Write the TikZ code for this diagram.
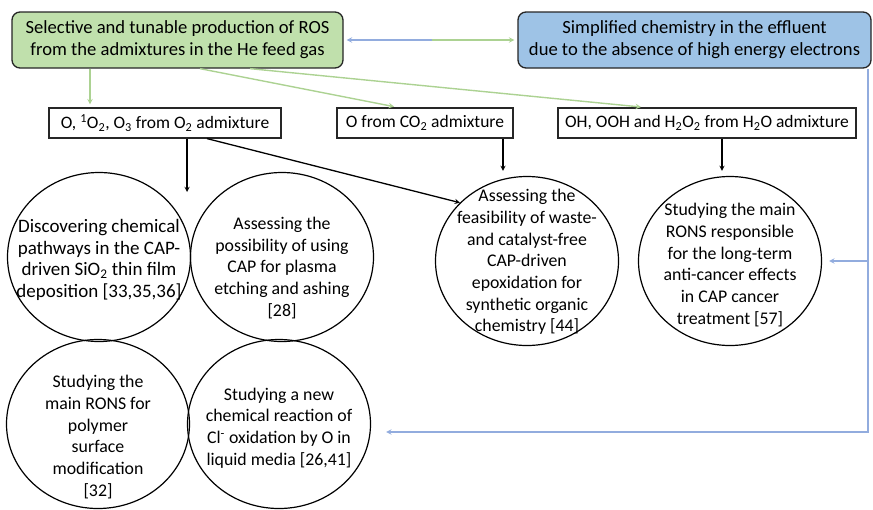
\documentclass[tikz,border=0pt]{standalone}
\usepackage{fontspec}
\setmainfont{Carlito}
\usetikzlibrary{shapes.geometric}

\definecolor{rosgreen}{RGB}{192,224,172}
\definecolor{chemblue}{RGB}{158,195,230}
\definecolor{linegreen}{RGB}{172,210,146}
\definecolor{lineblue}{RGB}{146,172,222}

\tikzset{
  headbox/.style={draw=black!85, line width=1.3pt, rounded corners=8pt,
    align=center, minimum height=56pt, inner sep=0pt,
    font=\fontsize{18.6}{22}\selectfont},
  admixbox/.style={draw=black!85, line width=1.2pt, minimum height=30pt, inner sep=0pt},
  topic/.style={ellipse, draw, line width=1.2pt, minimum width=183pt,
    minimum height=169pt, inner sep=0pt},
  topictext/.style={align=center, inner sep=0pt, font=\fontsize{17.8}{21.7}\selectfont},
  greenarrow/.style={->, draw=linegreen, line width=1.4pt},
  bluearrow/.style={->, draw=lineblue, line width=1.4pt},
  blackarrow/.style={->, draw=black, line width=1.3pt}
}

\begin{document}
\begin{tikzpicture}[x=1pt,y=-1pt,>=stealth,font=\fontsize{17.5}{21.7}\selectfont]
\useasboundingbox (0,0) rectangle (873,509);

% the two headline boxes
\node[headbox, fill=rosgreen, minimum width=331pt] (ros) at (177.5,40)
  {Selective and tunable production of ROS\\from the admixtures in the He feed gas};
\node[headbox, fill=chemblue, minimum width=353pt] (chem) at (694.5,40)
  {Simplified chemistry in the effluent\\due to the absence of high energy electrons};

% species from the admixtures
\node[admixbox, minimum width=232pt] (oxy) at (165,123)
  {O, \textsuperscript{1}O\textsubscript{2}, O\textsubscript{3} from O\textsubscript{2} admixture};
\node[admixbox, minimum width=176pt] (carb) at (425,123)
  {O from CO\textsubscript{2} admixture};
\node[admixbox, minimum width=298pt] (water) at (707,123)
  {OH, OOH and H\textsubscript{2}O\textsubscript{2} from H\textsubscript{2}O admixture};

% applications
\node[topic] (dep) at (99,257) {};
\node[topictext, font=\fontsize{19}{21.7}\selectfont] at ([yshift=-3pt]dep.center)
  {Discovering chemical\\pathways in the CAP-\\driven SiO\textsubscript{2} thin film\\deposition [33,35,36]};
\node[topic] (etch) at (282,257) {};
\node[topictext] at ([yshift=-11pt]etch.center) {Assessing the\\possibility of using\\CAP for plasma\\etching and ashing\\{}[28]};
\node[topic] (epox) at (527,261) {};
\node[topictext] at ([yshift=-1pt]epox.center) {Assessing the\\feasibility of waste-\\and catalyst-free\\CAP-driven\\epoxidation for\\synthetic organic\\chemistry [44]};
\node[topic] (canc) at (730,261) {};
\node[topictext] at ([yshift=-4pt]canc.center) {Studying the main\\RONS responsible\\for the long-term\\anti-cancer effects\\in CAP cancer\\treatment [57]};
\node[topic] (poly) at (98,424) {};
\node[topictext] at ([yshift=-13pt]poly.center) {Studying the\\main RONS for\\polymer\\surface\\modification\\{}[32]};
\node[topic] (chlor) at (279,424) {};
\node[topictext] at ([yshift=-4pt]chlor.center) {Studying a new\\chemical reaction of\\Cl\textsuperscript{-} oxidation by O in\\liquid media [26,41]};

% double arrow between the headlines
\coordinate (mid) at (432,40);
\draw[bluearrow, shorten >=3pt] (mid) -- (ros.east);
\draw[greenarrow, shorten >=3pt] (mid) -- (chem.west);

% green arrows to the admixtures
\draw[greenarrow, shorten >=3pt] ([xshift=-87.5pt]ros.south) -- ([xshift=-75pt]oxy.north);
\draw[greenarrow, shorten >=4pt] ([xshift=22.5pt]ros.south) -- ([xshift=-27pt]carb.north);
\draw[greenarrow, shorten >=4pt] ([xshift=72.5pt]ros.south) -- ([xshift=-62pt]water.north);

% blue feedback line
\coordinate (turn) at (868,432);
\draw[bluearrow, shorten >=15pt] (chem.south -| turn) -- (turn) -- (turn -| chlor.east);
\draw[bluearrow, shorten >=7pt] (turn |- canc) -- (canc.east);

% black arrows to the applications
\coordinate (gap) at (187,192);
\draw[blackarrow] (oxy.south -| gap) -- (gap);
\draw[blackarrow] ([xshift=42pt]oxy.south) -- (epox.139);
\draw[blackarrow, shorten >=5pt] ([xshift=78pt]carb.south) -- ([xshift=78pt]carb.south |- epox.north);
\draw[blackarrow, shorten >=5pt] ([xshift=15pt]water.south) -- ([xshift=15pt]water.south |- canc.north);
\end{tikzpicture}
\end{document}
